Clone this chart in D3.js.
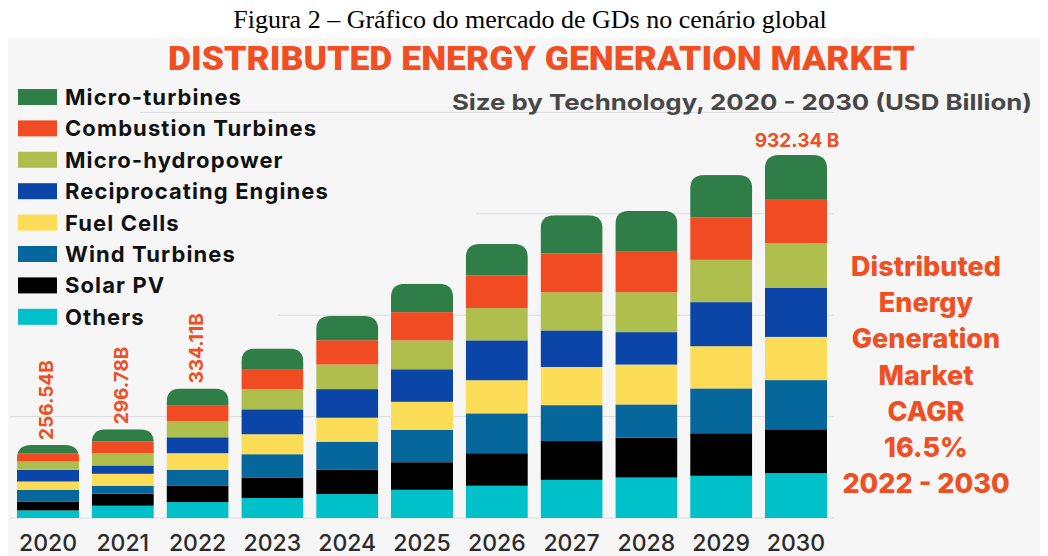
<!DOCTYPE html>
<html>
<head>
<meta charset="utf-8">
<script src="https://cdn.jsdelivr.net/npm/d3@7"></script>
<style>
  body { margin: 0; background: #fff; }
  svg { display: block; }
</style>
</head>
<body>
<div id="chart"></div>
<script>
// values (relative segment sizes, bottom to top)
const years = ['2020', '2021', '2022', '2023', '2024', '2025', '2026', '2027', '2028', '2029', '2030'];
const technologies = ['Others', 'Solar PV', 'Wind Turbines', 'Fuel Cells', 'Reciprocating Engines',
  'Micro-hydropower', 'Combustion Turbines', 'Micro-turbines'];
const others       = [7.5, 12.1, 15.7, 19.7, 23.6, 27.8, 31.8, 37.6, 39.9, 41.6, 44.2];
const solarPV      = [8.8, 11.8, 16.4, 20.3, 23.9, 27.2, 32.1, 38.3, 39.3, 42.0, 43.3];
const windTurbines = [11.5, 7.9, 15.4, 22.9, 27.8, 31.8, 39.3, 35.4, 32.8, 44.2, 48.5];
const fuelCells    = [8.2, 11.8, 16.4, 19.7, 23.6, 27.8, 32.7, 37.6, 39.3, 41.6, 42.6];
const reciprocating = [11.5, 8.2, 15.7, 24.6, 28.2, 32.1, 39.3, 36.1, 32.0, 43.5, 48.6];
const microHydro   = [8.2, 12.1, 16.0, 20.0, 24.3, 28.5, 31.8, 37.6, 39.3, 41.7, 43.8];
const combustion   = [8.2, 11.5, 15.7, 19.7, 23.9, 27.8, 32.1, 38.3, 40.0, 41.9, 43.6];
const microTurbines = [8.2, 12.1, 16.4, 20.3, 23.9, 27.9, 31.2, 37.7, 40.3, 41.7, 43.5];
const valueLabels = {'2020': '256.54B', '2021': '296.78B', '2022': '334.11B', '2030': '932.34 B'};
const gridTicks = [0, 100, 200, 300, 400];
const sideText = ['Distributed', 'Energy', 'Generation', 'Market', 'CAGR', '16.5%', '2022 - 2030'];

const colors = {
  'Micro-turbines': '#2f7d47',
  'Combustion Turbines': '#f04b22',
  'Micro-hydropower': '#aebf4e',
  'Reciprocating Engines': '#0b45a8',
  'Fuel Cells': '#fddc57',
  'Wind Turbines': '#06679d',
  'Solar PV': '#000000',
  'Others': '#00c0c9'
};
const red = '#f04e23';

let width = 1048;
let height = 556;

let series = [others, solarPV, windTurbines, fuelCells, reciprocating, microHydro, combustion, microTurbines];
let rows = years.map((y, i) => {
  let row = {year: y};
  technologies.forEach((t, j) => row[t] = series[j][i]);
  return row;
});
let stacked = d3.stack().keys(technologies)(rows);

let svg = d3.select('#chart').append('svg')
  .attr('width', width)
  .attr('height', height);

// caption above the graphic
svg.append('text')
  .attr('x', 530)
  .attr('y', 28)
  .attr('text-anchor', 'middle')
  .style('font-family', '"Liberation Serif", "Times New Roman", serif')
  .style('font-size', '26px')
  .attr('fill', '#000')
  .text('Figura 2 – Gráfico do mercado de GDs no cenário global');

svg.append('rect')
  .attr('x', 8).attr('y', 38)
  .attr('width', 1032).attr('height', height - 38)
  .attr('fill', '#f6f6f6');

let x = d3.scaleBand()
  .domain(years)
  .range([10.6, 833.4])
  .paddingInner(0.17)
  .paddingOuter(0.085);

let y = d3.scaleLinear()
  .domain([0, 400])
  .range([518, 112.4]);

// grid lines, partly hidden by the legend in the original
let gridStart = {0: 10, 100: 10, 200: 278, 300: 476, 400: 140};
svg.append('g')
  .selectAll('line')
  .data(gridTicks)
  .enter()
  .append('line')
  .attr('x1', d => gridStart[d])
  .attr('x2', 834)
  .attr('y1', d => y(d))
  .attr('y2', d => y(d))
  .attr('stroke', '#dcdcdc')
  .attr('stroke-width', 1);

// title + subtitle
svg.append('text')
  .attr('x', 168)
  .attr('y', 70)
  .attr('textLength', 747)
  .attr('lengthAdjust', 'spacingAndGlyphs')
  .style('font-family', 'Roboto, sans-serif')
  .style('font-weight', 900)
  .style('font-size', '34px')
  .attr('fill', red)
  .text('DISTRIBUTED ENERGY GENERATION MARKET');

svg.append('text')
  .attr('x', 452)
  .attr('y', 110)
  .attr('textLength', 580)
  .attr('lengthAdjust', 'spacingAndGlyphs')
  .style('font-family', 'Inter, sans-serif')
  .style('font-weight', 700)
  .style('font-size', '22px')
  .attr('fill', '#474747')
  .text('Size by Technology, 2020 - 2030 (USD Billion)');

// legend, top item first
let legend = svg.append('g')
  .selectAll('g')
  .data(technologies.slice().reverse())
  .enter()
  .append('g')
  .attr('transform', (d, i) => `translate(18, ${97 + i * 31.4})`);

legend.append('rect')
  .attr('x', 0).attr('y', -8)
  .attr('width', 39).attr('height', 16)
  .attr('fill', d => colors[d]);

legend.append('text')
  .attr('x', 47)
  .attr('y', 8)
  .style('font-family', 'Inter, sans-serif')
  .style('font-weight', 700)
  .style('font-size', '22px')
  .style('letter-spacing', '1.1px')
  .attr('fill', '#111')
  .text(d => d);

// bars with rounded tops: clip each stacked column
let radius = 14;
let defs = svg.append('defs');
years.forEach((yr, i) => {
  let total = d3.sum(series, s => s[i]);
  let x0 = x(yr), w = x.bandwidth(), top = y(total), bottom = y(0);
  let r = Math.min(radius, (bottom - top) / 2);
  defs.append('clipPath')
    .attr('id', `clip-${yr}`)
    .append('path')
    .attr('d', `M${x0},${bottom} V${top + r} Q${x0},${top} ${x0 + r},${top} H${x0 + w - r} Q${x0 + w},${top} ${x0 + w},${top + r} V${bottom} Z`);
});

let bars = svg.append('g')
  .selectAll('g')
  .data(years)
  .enter()
  .append('g')
  .attr('clip-path', d => `url(#clip-${d})`);

bars.selectAll('rect')
  .data((yr, i) => stacked.map(layer => ({key: layer.key, year: yr, v: layer[i]})))
  .enter()
  .append('rect')
  .attr('x', d => x(d.year))
  .attr('width', x.bandwidth())
  .attr('y', d => y(d.v[1]))
  .attr('height', d => y(d.v[0]) - y(d.v[1]))
  .attr('fill', d => colors[d.key]);

// value labels
Object.keys(valueLabels).forEach(yr => {
  let i = years.indexOf(yr);
  let total = d3.sum(series, s => s[i]);
  let cx = x(yr) + x.bandwidth() / 2;
  let label = svg.append('text')
    .style('font-family', 'Inter, sans-serif')
    .style('font-weight', 700)
    .style('font-size', '19px')
    .attr('fill', red)
    .text(valueLabels[yr]);
  if (yr === '2030') {
    label.attr('x', cx + 1).attr('y', y(total) - 8).attr('text-anchor', 'middle');
  } else {
    label.attr('transform', `translate(${cx + 5}, ${y(total) - 5}) rotate(-90)`);
  }
});

// year labels
svg.append('g')
  .selectAll('text')
  .data(years)
  .enter()
  .append('text')
  .attr('x', d => x(d) + x.bandwidth() / 2)
  .attr('y', 551)
  .attr('text-anchor', 'middle')
  .style('font-family', 'Inter, sans-serif')
  .style('font-weight', 500)
  .style('font-size', '23px')
  .attr('fill', '#2b2b2b')
  .text(d => d);

// CAGR block on the right
svg.append('g')
  .selectAll('text')
  .data(sideText)
  .enter()
  .append('text')
  .attr('x', 926)
  .attr('y', (d, i) => 276 + i * 36.2)
  .attr('text-anchor', 'middle')
  .style('font-family', 'Inter, sans-serif')
  .style('font-weight', 800)
  .style('font-size', '27px')
  .attr('fill', red)
  .text(d => d);
</script>
</body>
</html>
